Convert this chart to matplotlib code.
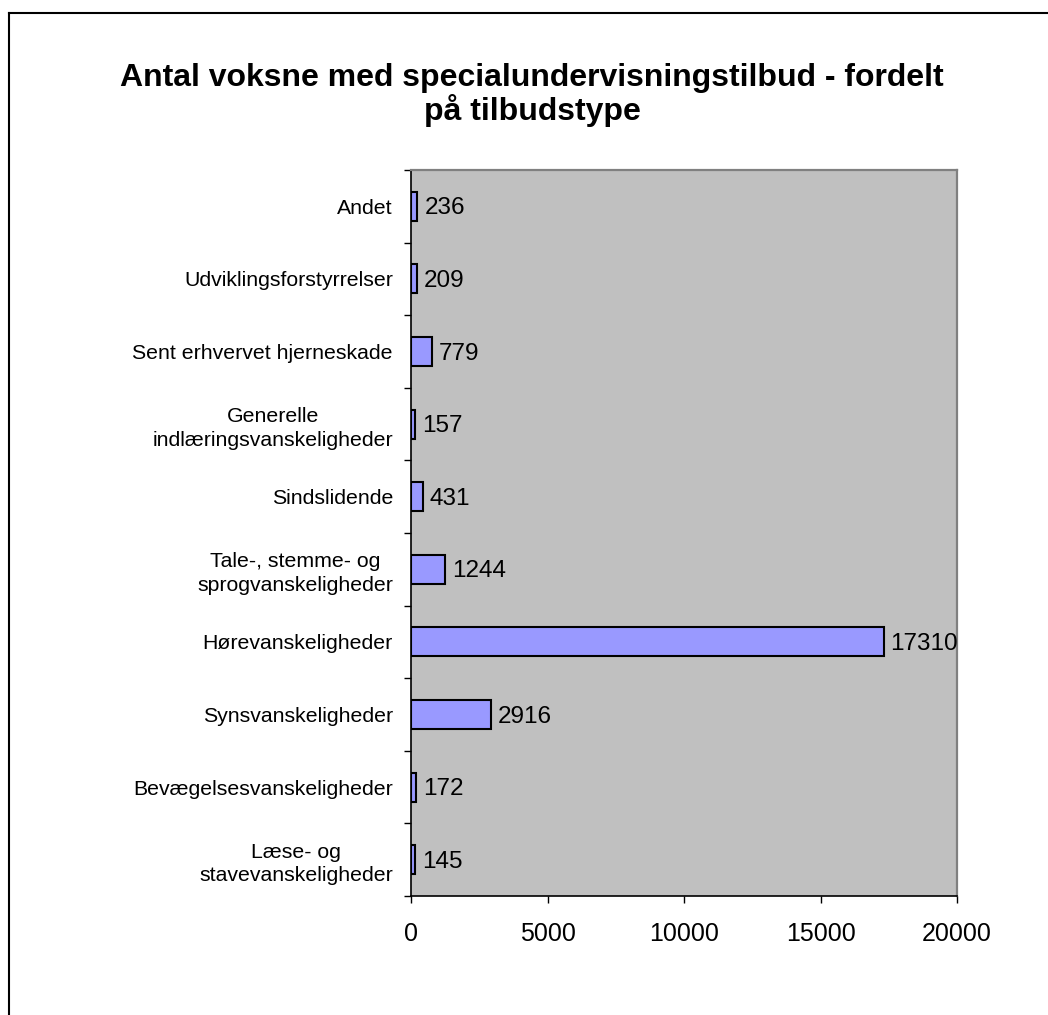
import matplotlib
matplotlib.use("Agg")
import matplotlib.pyplot as plt
from matplotlib.lines import Line2D
import numpy as np

plt.rcParams['font.family'] = ['Liberation Sans', 'DejaVu Sans']

categories = [
    "Læse- og\nstavevanskeligheder",
    "Bevægelsesvanskeligheder",
    "Synsvanskeligheder",
    "Hørevanskeligheder",
    "Tale-, stemme- og\nsprogvanskeligheder",
    "Sindslidende",
    "Generelle\nindlæringsvanskeligheder",
    "Sent erhvervet hjerneskade",
    "Udviklingsforstyrrelser",
    "Andet",
]
values = [145, 172, 2916, 17310, 1244, 431, 157, 779, 209, 236]
xticks = [0, 5000, 10000, 15000, 20000]
title = "Antal voksne med specialundervisningstilbud - fordelt\npå tilbudstype"

W, H = 1048, 1015
fig = plt.figure(figsize=(W / 100, H / 100), dpi=100)
fig.patch.set_facecolor('white')

ax = fig.add_axes([411 / W, 1 - 896 / H, (957 - 411) / W, (896 - 170) / H])
ax.set_facecolor('#C0C0C0')

y = np.arange(len(categories))
ax.barh(y, values, height=0.4, color='#9999FF', edgecolor='black', linewidth=1.5, zorder=3)

for yi, v in zip(y, values):
    ax.annotate(str(v), xy=(v, yi), xytext=(5, -1.5), textcoords='offset points',
                ha='left', va='center', fontsize=17.5, color='black', zorder=4)

ax.set_xlim(0, 20000)
ax.set_ylim(-0.5, len(categories) - 0.5)
ax.set_xticks(xticks)
ax.set_xticklabels([str(t) for t in xticks])
ax.tick_params(axis='x', direction='out', length=5, width=1, color='black',
               labelsize=18, pad=14)

ax.set_yticks(y)
ax.set_yticklabels(categories, fontsize=15.3, multialignment='center', linespacing=1.3)
ax.tick_params(axis='y', which='major', length=0, pad=13)
ax.set_yticks(np.arange(-0.5, len(categories), 1.0), minor=True)
ax.tick_params(axis='y', which='minor', direction='out', length=5, width=1, color='black')

for s in ['left', 'bottom']:
    ax.spines[s].set_color('black')
    ax.spines[s].set_linewidth(1.2)
for s in ['top', 'right']:
    ax.spines[s].set_color('#808080')
    ax.spines[s].set_linewidth(1.6)

fig.text(532 / W, 1 - 95 / H, title, ha='center', va='center', fontsize=23,
         fontweight='bold', linespacing=1.05)

# chart area border (top and left visible)
fig.add_artist(Line2D([9 / W, 9 / W], [0, 1 - 13 / H], transform=fig.transFigure,
                      color='black', linewidth=1.5))
fig.add_artist(Line2D([9 / W, 1], [1 - 13 / H, 1 - 13 / H], transform=fig.transFigure,
                      color='black', linewidth=1.5))

fig.savefig('out.png', dpi=100)
